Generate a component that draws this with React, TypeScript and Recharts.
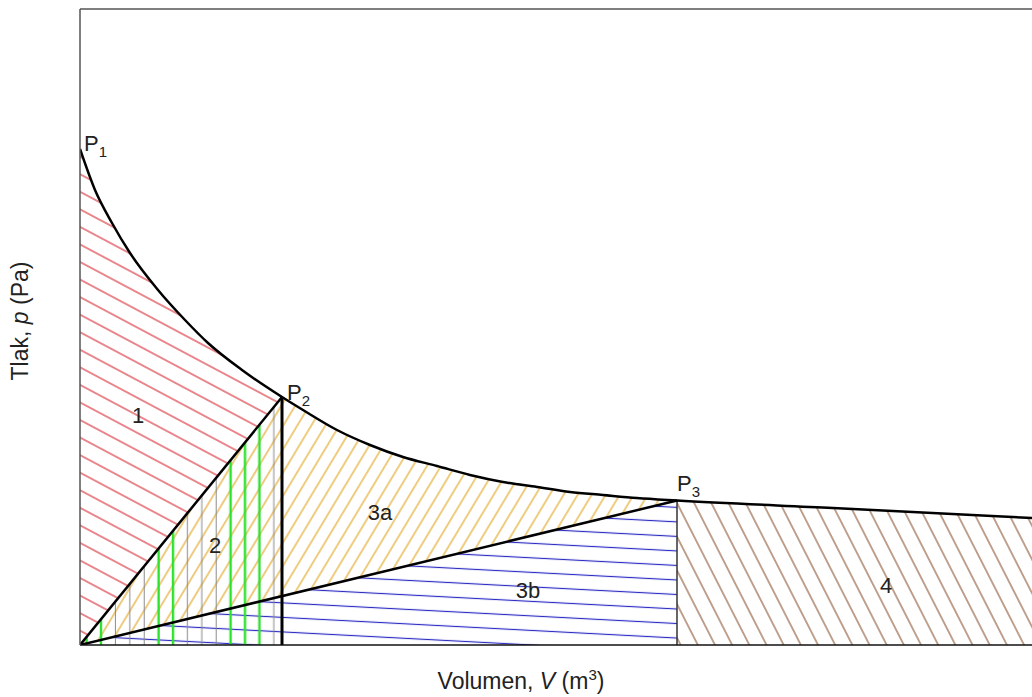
import React from 'react';
import { ComposedChart, Area, Line, XAxis, YAxis, ReferenceLine, ReferenceDot } from 'recharts';

// Volume (arbitrary units) and pressure read along the p–V curve
const volume = [0, 0.15, 0.32, 0.5, 0.78, 1.05, 1.28, 1.62, 2.02, 2.23, 2.57, 2.9, 3.23, 3.57, 3.9, 4.23, 4.57, 4.9, 5.23, 5.57, 5.97, 7.53, 9.52, 10.5];
const pressure = [4.96, 4.55, 4.22, 3.92, 3.55, 3.25, 3.02, 2.75, 2.48, 2.35, 2.15, 2.0, 1.88, 1.79, 1.7, 1.63, 1.58, 1.53, 1.5, 1.47, 1.445, 1.37, 1.27, 1.22];

// Indices of the state points P1, P2, P3 in the arrays above
const pointIndices = [0, 8, 20];
const pointNames = ['P', 'P', 'P'];
const pointSubs = ['1', '2', '3'];

// Region labels and where they sit (data coordinates)
const regionNames = ['1', '2', '3a', '3b', '4'];
const regionV = [0.58, 1.35, 3.0, 4.48, 8.06];
const regionP = [2.3, 1.0, 1.33, 0.55, 0.6];

const V_MAX = 10.5;
const P_MAX = 6.36;

const i2 = pointIndices[1];
const i3 = pointIndices[2];

const rows = volume.map((V, i) => {
  const p = pressure[i];
  return {
    V,
    p,
    r1: i <= i2 ? p : null,
    r3a: i >= i2 && i <= i3 ? p : null,
    r4: i >= i3 ? p : null,
    op2: i === 0 ? 0 : i === i2 ? p : null,
    op3: i === 0 ? 0 : i === i3 ? p : null,
  };
});

const FONT = '"Liberation Sans", Arial, Helvetica, sans-serif';
const TXT = '#222';

const GREEN = '#2ee02e';
const GRAY = '#8a8a8a';
const verticalColors = [GREEN, GREEN, GRAY, GRAY, GRAY, GREEN, GREEN, GRAY, GRAY, GRAY, GREEN, GREEN, GREEN, GRAY];

const hatch = (id: string, color: string, angle: number, gap: number, white: boolean) => (
  <pattern id={id} key={id} patternUnits="userSpaceOnUse" width={20} height={gap} patternTransform={`rotate(${angle})`}>
    {white ? <rect x={0} y={0} width={20} height={gap} fill="#fff" /> : null}
    <line x1={0} y1={gap / 2} x2={20} y2={gap / 2} stroke={color} strokeWidth={1.2} />
  </pattern>
);

const XLabel = () => (
  <text x={521} y={689} textAnchor="middle" fontFamily={FONT} fontSize={23} fill={TXT}>
    <tspan>Volumen, </tspan>
    <tspan fontStyle="italic">V</tspan>
    <tspan> (m</tspan>
    <tspan dy={-9} fontSize={15}>3</tspan>
    <tspan dy={9}>)</tspan>
  </text>
);

const YLabel = () => (
  <text x={28} y={321} textAnchor="middle" fontFamily={FONT} fontSize={23} fill={TXT} transform="rotate(-90, 28, 321)">
    <tspan>Tlak, </tspan>
    <tspan fontStyle="italic">p</tspan>
    <tspan> (Pa)</tspan>
  </text>
);

const pointLabelOffsets = [
  [4, 2],
  [5, 3],
  [0, -10],
];

export default function App() {
  return (
    <div style={{ position: 'absolute', left: 0, top: 0, width: 1032, height: 697, overflow: 'hidden', background: '#fff' }}>
      <ComposedChart width={1130} height={697} data={rows} margin={{ top: 9, right: 0, bottom: 0, left: 0 }}>
        <defs>
          {hatch('hRed', '#dc3a44', 28, 15.5, false)}
          {hatch('hOrange', '#e3a92a', -59, 12, false)}
          {hatch('hOrangeW', '#e3a92a', -59, 12, true)}
          {hatch('hBlueW', '#2a2ac4', 3, 14.5, true)}
          {hatch('hBrown', '#956446', 63, 15.3, false)}
          <pattern id="hVert" patternUnits="userSpaceOnUse" x={80} y={0} width={201.6} height={1000}>
            {verticalColors.map((c, k) => (
              <line key={k} x1={6.6 + 14.4 * k} y1={0} x2={6.6 + 14.4 * k} y2={1000} stroke={c} strokeWidth={c === GRAY ? 1 : 2.4} />
            ))}
          </pattern>
        </defs>
        <XAxis
          dataKey="V"
          type="number"
          domain={[0, V_MAX]}
          allowDataOverflow
          tick={false}
          tickLine={false}
          height={52}
          axisLine={{ stroke: '#111', strokeWidth: 1.5 }}
          label={() => <XLabel />}
        />
        <YAxis
          type="number"
          domain={[0, P_MAX]}
          allowDataOverflow
          tick={false}
          tickLine={false}
          width={80}
          axisLine={{ stroke: '#555', strokeWidth: 1.5 }}
          label={() => <YLabel />}
        />
        <ReferenceLine y={P_MAX} stroke="#555" strokeWidth={1.5} ifOverflow="visible" />

        <Area type="monotone" dataKey="r1" stroke="none" fill="url(#hRed)" fillOpacity={1} connectNulls baseValue={0} dot={false} activeDot={false} isAnimationActive={false} />
        <Area type="monotone" dataKey="r3a" stroke="none" fill="url(#hOrange)" fillOpacity={1} connectNulls baseValue={0} dot={false} activeDot={false} isAnimationActive={false} />
        <Area type="linear" dataKey="op2" stroke="none" fill="url(#hOrangeW)" fillOpacity={1} connectNulls baseValue={0} dot={false} activeDot={false} isAnimationActive={false} />
        <Area type="linear" dataKey="op3" stroke="none" fill="url(#hBlueW)" fillOpacity={1} connectNulls baseValue={0} dot={false} activeDot={false} isAnimationActive={false} />
        <Area type="linear" dataKey="op2" stroke="none" fill="url(#hVert)" fillOpacity={1} connectNulls baseValue={0} dot={false} activeDot={false} isAnimationActive={false} />
        <Area type="monotone" dataKey="r4" stroke="none" fill="url(#hBrown)" fillOpacity={1} connectNulls baseValue={0} dot={false} activeDot={false} isAnimationActive={false} />

        <ReferenceLine segment={[{ x: volume[i2], y: 0 }, { x: volume[i2], y: pressure[i2] }]} stroke="#000" strokeWidth={3} />
        <ReferenceLine segment={[{ x: volume[i3], y: 0 }, { x: volume[i3], y: pressure[i3] }]} stroke="#333" strokeWidth={1.5} />

        <Line type="linear" dataKey="op2" stroke="#000" strokeWidth={2.5} connectNulls dot={false} activeDot={false} isAnimationActive={false} />
        <Line type="linear" dataKey="op3" stroke="#000" strokeWidth={2.5} connectNulls dot={false} activeDot={false} isAnimationActive={false} />
        <Line type="monotone" dataKey="p" stroke="#000" strokeWidth={2.5} dot={false} activeDot={false} isAnimationActive={false} />

        {pointIndices.map((idx, k) => (
          <ReferenceDot
            key={`pt${k}`}
            x={volume[idx]}
            y={pressure[idx]}
            r={0}
            fill="none"
            stroke="none"
            ifOverflow="visible"
            label={(props: any) => {
              const vb = props.viewBox || {};
              const x = (vb.x ?? 0) + (vb.width ?? 0) / 2 + pointLabelOffsets[k][0];
              const y = (vb.y ?? 0) + (vb.height ?? 0) / 2 + pointLabelOffsets[k][1];
              return (
                <text x={x} y={y} fontFamily={FONT} fontSize={22} fill={TXT}>
                  <tspan>{pointNames[k]}</tspan>
                  <tspan dy={6} fontSize={15}>{pointSubs[k]}</tspan>
                </text>
              );
            }}
          />
        ))}

        {regionNames.map((name, k) => (
          <ReferenceDot
            key={`rg${k}`}
            x={regionV[k]}
            y={regionP[k]}
            r={0}
            fill="none"
            stroke="none"
            ifOverflow="visible"
            label={(props: any) => {
              const vb = props.viewBox || {};
              const x = (vb.x ?? 0) + (vb.width ?? 0) / 2;
              const y = (vb.y ?? 0) + (vb.height ?? 0) / 2;
              return (
                <text x={x} y={y + 8} textAnchor="middle" fontFamily={FONT} fontSize={22} fill={TXT}>
                  {name}
                </text>
              );
            }}
          />
        ))}
      </ComposedChart>
    </div>
  );
}
